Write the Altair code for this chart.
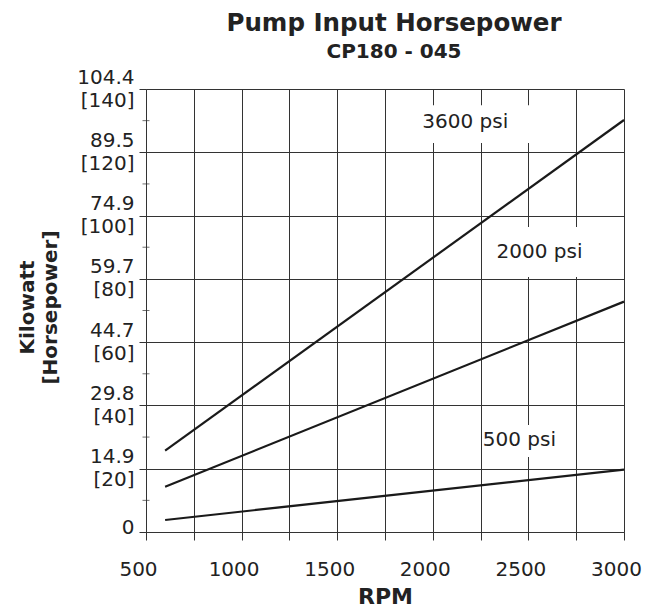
import altair as alt
import pandas as pd

# ---- data ----
series = ["3600 psi", "2000 psi", "500 psi"]
rpm_start = [600, 600, 600]
rpm_end = [3000, 3000, 3000]
hp_start = [25.7, 14.3, 3.8]
hp_end = [130.2, 72.8, 19.7]

# y tick labels: kilowatt over [horsepower]
hp_ticks = [0, 20, 40, 60, 80, 100, 120, 140]
kw_labels = ["0", "14.9", "29.8", "44.7", "59.7", "74.9", "89.5", "104.4"]
hp_minor = [10, 30, 50, 70, 90, 110, 130]
rpm_ticks = [500, 750, 1000, 1250, 1500, 1750, 2000, 2250, 2500, 2750, 3000]

# annotation labels (data units) and their white backing boxes
lab_text = ["3600 psi", "2000 psi", "500 psi"]
lab_rpm = [2170, 2558, 2453]
lab_hp = [129.5, 88.5, 29.1]
box_rpm_lo = [1830, 2301, 2259]
box_rpm_hi = [2510, 2825, 2668]
box_hp_lo = [122.9, 80.6, 23.7]
box_hp_hi = [134.9, 96.4, 33.8]

FONT = "DejaVu Sans"
INK = "#222222"

rows = []
for s, r0, r1, h0, h1 in zip(series, rpm_start, rpm_end, hp_start, hp_end):
    rows.append({"series": s, "rpm": r0, "hp": h0})
    rows.append({"series": s, "rpm": r1, "hp": h1})
lines_df = pd.DataFrame(rows)

labels_df = pd.DataFrame({"text": lab_text, "rpm": lab_rpm, "hp": lab_hp,
                          "x0": box_rpm_lo, "x1": box_rpm_hi,
                          "y0": box_hp_lo, "y1": box_hp_hi})
minor_df = pd.DataFrame({"rpm": [500] * len(hp_minor), "hp": hp_minor})

label_arr = "[" + ",".join(
    ("['0']" if h == 0 else "['%s','[%d]']" % (k, h)) for h, k in zip(hp_ticks, kw_labels)
) + "]"

x_scale = alt.Scale(domain=[500, 3000], nice=False, zero=False)
y_scale = alt.Scale(domain=[0, 140], nice=False)

x_axis = alt.Axis(
    values=rpm_ticks, format="d", grid=True, gridColor="#333333", gridWidth=1,
    labelExpr="datum.value % 500 == 0 ? datum.label : ''",
    labelFont=FONT, labelFontSize=20, labelColor=INK, labelPadding=19,
    labelOffset=-8, labelFlush=False,
    tickSize=8, tickColor="#333333", domainColor="#333333",
    title="RPM", titleFont=FONT, titleFontSize=22, titleFontWeight="bold",
    titleColor=INK, titleY=71, titleBaseline="alphabetic",
)
y_axis = alt.Axis(
    values=hp_ticks, grid=True, gridColor="#333333", gridWidth=1,
    labelExpr=label_arr + "[datum.value/20]",
    labelFont=FONT, labelFontSize=20, labelColor=INK, labelPadding=5,
    labelLineHeight=23, labelBaseline="middle",
    labelOffset={"condition": {"test": "datum.value == 0", "value": -5}, "value": -12},
    tickSize=7, tickColor="#333333", domainColor="#333333",
    title=["Kilowatt", "[Horsepower]"], titleFont=FONT, titleFontSize=20,
    titleFontWeight="bold", titleColor=INK, titleAngle=270, titleLineHeight=23,
    titleX=-113, titleY=218, titleAlign="center", titleBaseline="alphabetic",
)

base_x = alt.X("rpm:Q", scale=x_scale, axis=x_axis)
base_y = alt.Y("hp:Q", scale=y_scale, axis=y_axis)

lines = alt.Chart(lines_df).mark_line(color="#1a1a1a", strokeWidth=2.2).encode(
    x=base_x, y=base_y, detail="series:N"
)

minor = alt.Chart(minor_df).mark_tick(orient="horizontal", size=7, thickness=1,
                                      color="#333333").encode(
    x=alt.X("rpm:Q", scale=x_scale), y=alt.Y("hp:Q", scale=y_scale)
)

boxes = alt.Chart(labels_df).mark_rect(color="white").encode(
    x=alt.X("x0:Q", scale=x_scale), x2="x1:Q",
    y=alt.Y("y0:Q", scale=y_scale), y2="y1:Q",
)

texts = alt.Chart(labels_df).mark_text(font=FONT, fontSize=20, color=INK,
                                       align="center", baseline="middle").encode(
    x=alt.X("rpm:Q", scale=x_scale), y=alt.Y("hp:Q", scale=y_scale), text="text:N"
)

chart = alt.layer(lines, boxes, texts, minor).properties(
    width=478, height=443,
    autosize=alt.AutoSizeParams(type="none"),
    padding={"left": 138, "top": 81, "right": 22, "bottom": 75},
    title=alt.TitleParams(
        text="Pump Input Horsepower", subtitle="CP180 - 045",
        font=FONT, fontSize=24.5, fontWeight="bold", color=INK,
        subtitleFont=FONT, subtitleFontSize=20, subtitleFontWeight="bold",
        subtitleColor=INK, subtitlePadding=6,
        anchor="middle", frame="group", dx=9, offset=4,
    ),
).configure_view(strokeWidth=0)

chart.save("out.html", embed_options={"renderer": "svg", "actions": False})
